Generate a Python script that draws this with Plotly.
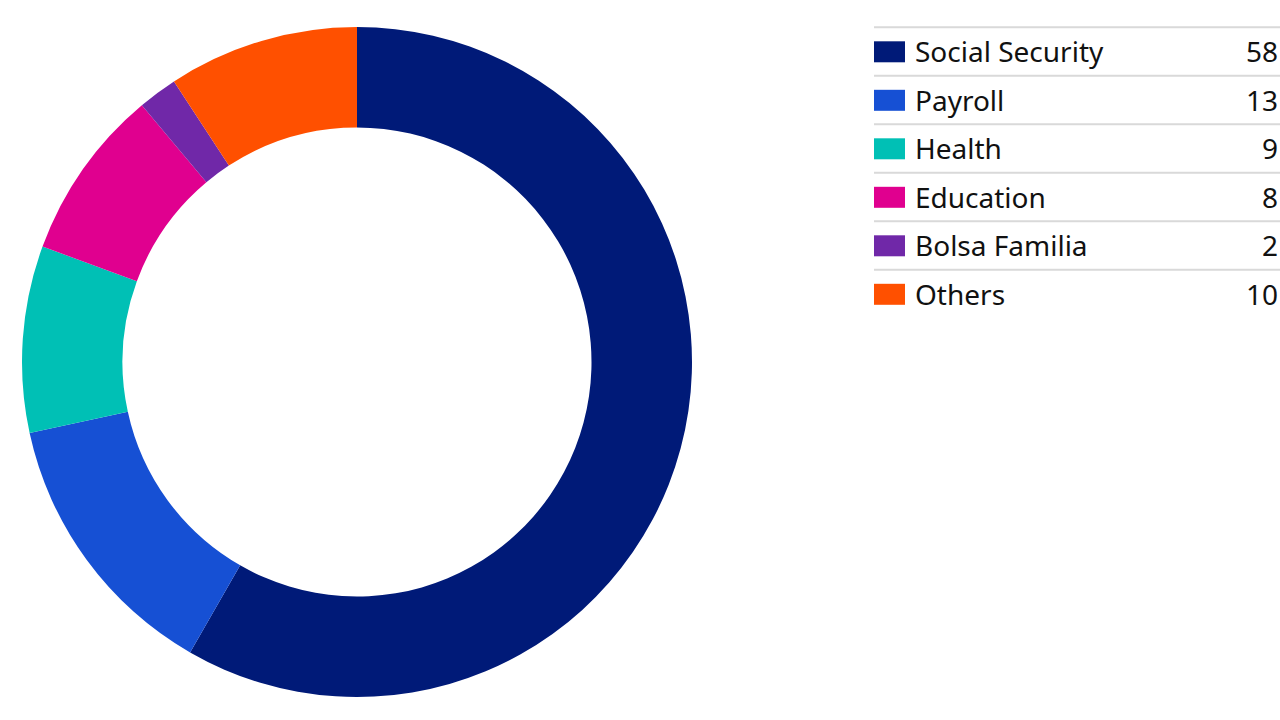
import plotly.graph_objects as go

labels = ["Social Security", "Payroll", "Health", "Education", "Bolsa Familia", "Others"]
# values printed in the legend
values = [58, 13, 9, 8, 2, 10]
shares = [58.3, 13.3, 9.0, 8.3, 1.9, 9.2]
colors = ["#001a78", "#1650d4", "#00c0b5", "#e0008f", "#7028a8", "#ff5000"]

W, H = 1280, 720

fig = go.Figure(
    go.Pie(
        labels=labels,
        values=shares,
        customdata=values,
        marker=dict(colors=colors, line=dict(width=0)),
        hole=0.70,
        sort=False,
        direction="clockwise",
        rotation=0,
        textinfo="none",
        hovertemplate="%{label}: %{customdata}<extra></extra>",
        domain=dict(x=[22 / W, 692 / W], y=[23 / H, 693 / H]),
        showlegend=False,
    )
)

# table-style legend on the right
row_h = 48.5
top = 27.3
shapes = []
annotations = []
for i, (lab, val, col) in enumerate(zip(labels, values, colors)):
    y_line = top + row_h * i
    y_mid = y_line + 24.5
    shapes.append(dict(
        type="line", xref="paper", yref="paper",
        x0=874 / W, x1=1.0, y0=1 - y_line / H, y1=1 - y_line / H,
        line=dict(color="#d9d9d9", width=2),
    ))
    shapes.append(dict(
        type="rect", xref="paper", yref="paper",
        x0=874 / W, x1=905 / W,
        y0=1 - (y_mid + 10.5) / H, y1=1 - (y_mid - 10.5) / H,
        fillcolor=col, line=dict(width=0),
    ))
    annotations.append(dict(
        text=lab, xref="paper", yref="paper",
        x=913 / W, y=1 - (y_mid - 0.5) / H, xanchor="left", yanchor="middle",
        showarrow=False, font=dict(size=28, color="#111111"),
    ))
    annotations.append(dict(
        text=str(val), xref="paper", yref="paper",
        x=1.0, y=1 - (y_mid - 0.5) / H, xanchor="right", yanchor="middle",
        showarrow=False, font=dict(size=28, color="#111111"),
    ))

fig.update_layout(
    width=W,
    height=H,
    margin=dict(l=0, r=0, t=0, b=0),
    paper_bgcolor="white",
    plot_bgcolor="white",
    font=dict(family="Noto Sans, Open Sans, sans-serif"),
    shapes=shapes,
    annotations=annotations,
)

# drop the browser's default body margin so the figure sits at the page corner
fig.write_html(
    "out.html",
    config={"displayModeBar": False},
    post_script="document.body.style.margin='0';document.body.style.overflow='hidden';",
)
